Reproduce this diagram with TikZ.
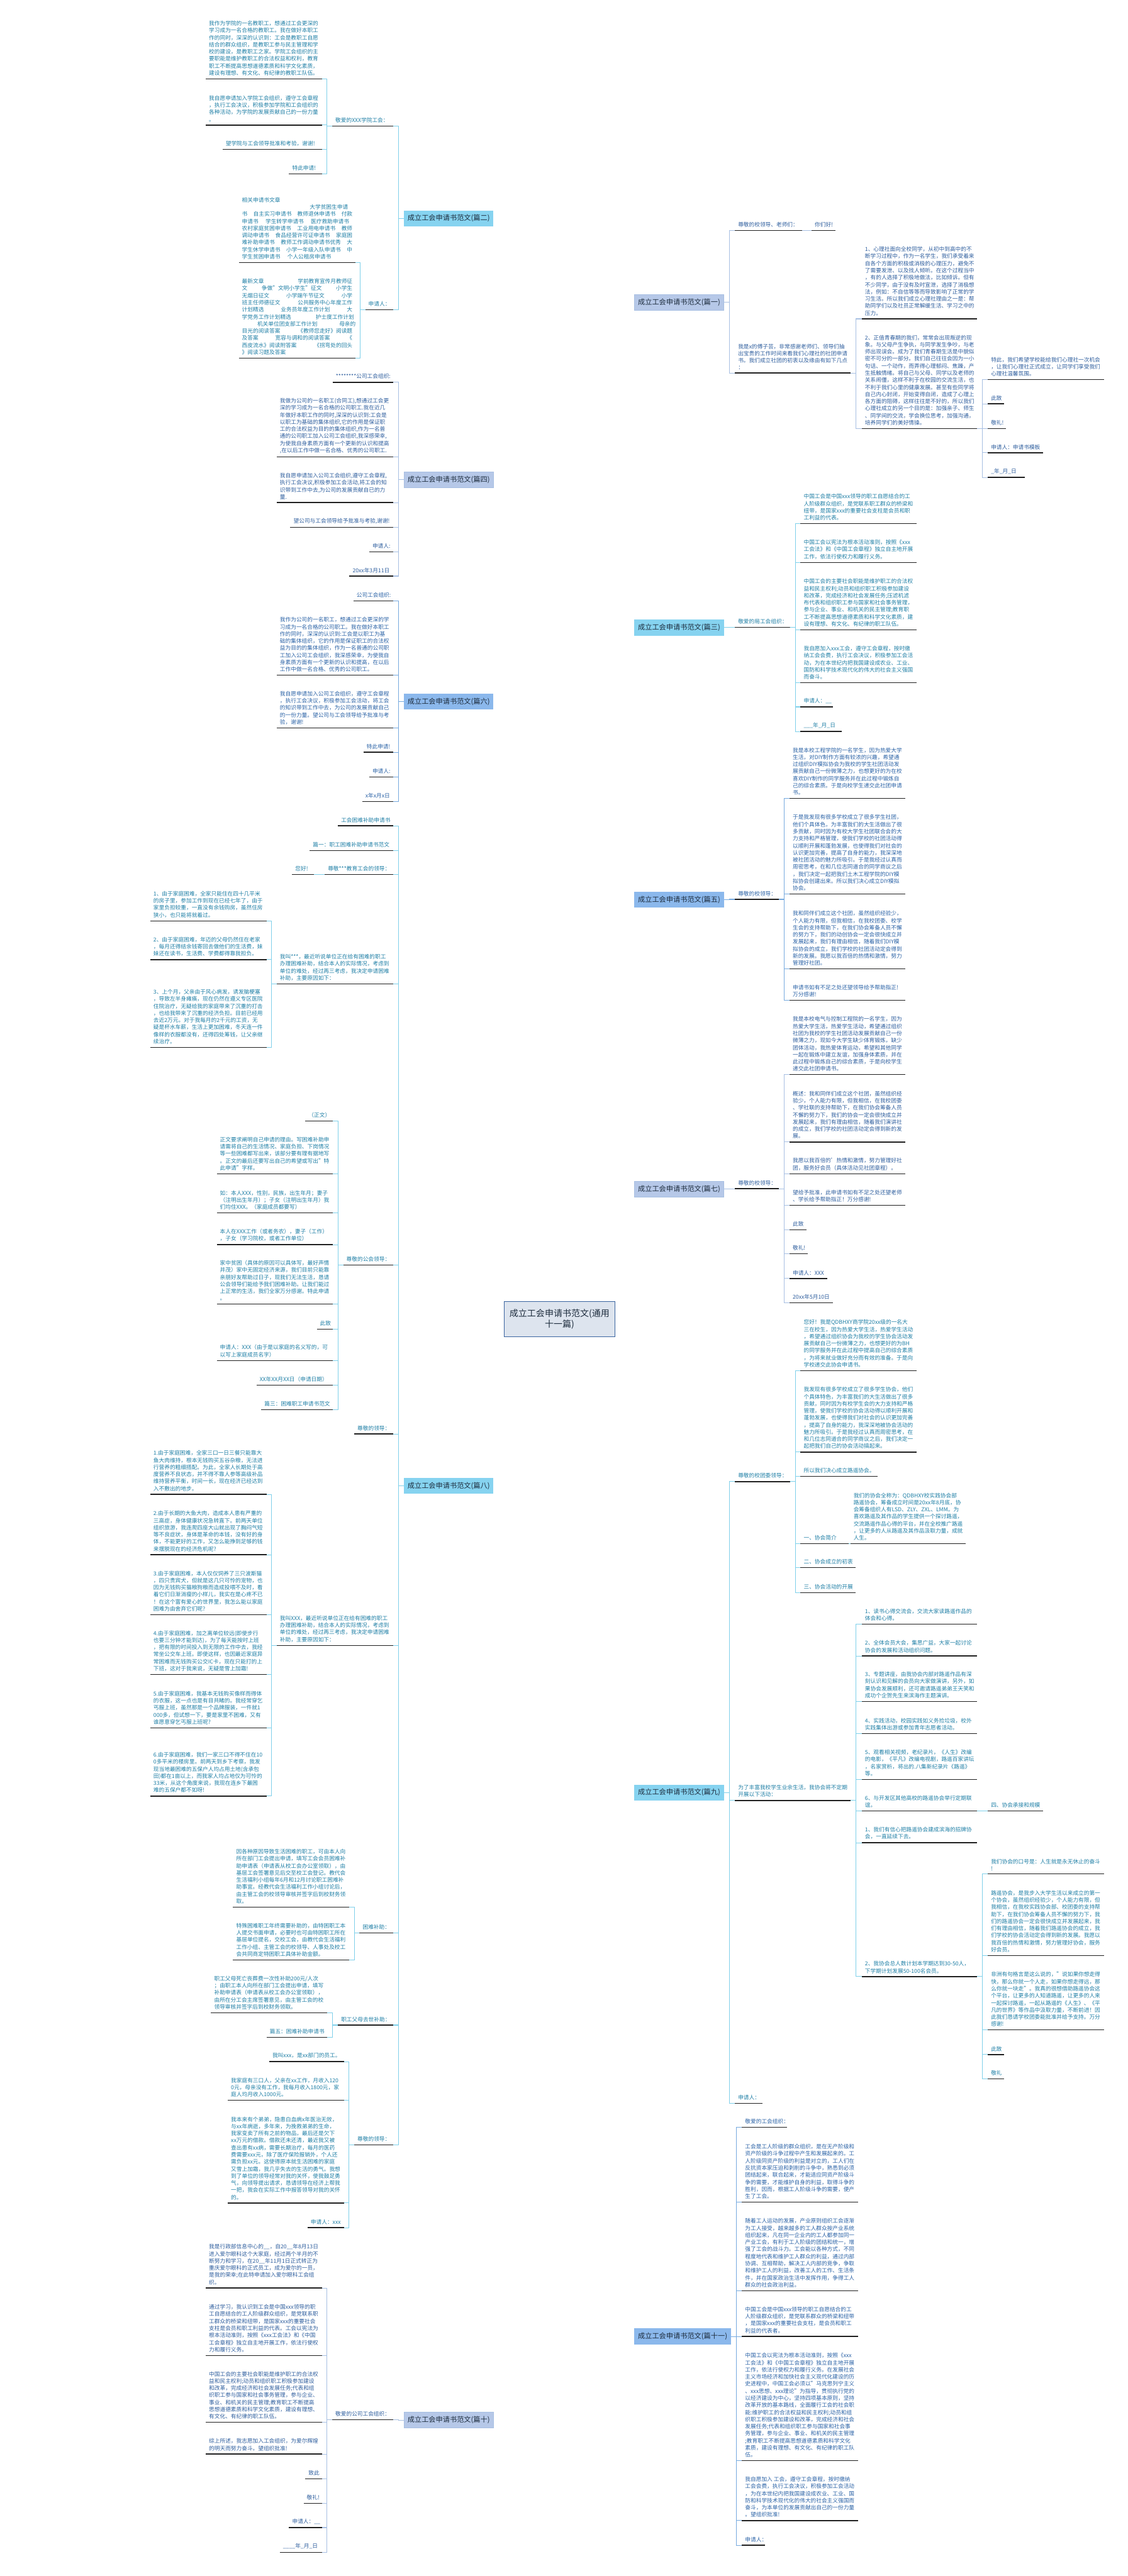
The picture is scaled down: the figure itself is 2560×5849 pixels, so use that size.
\documentclass[tikz,border=0pt]{standalone}
\usepackage{fontspec}
\setmainfont{Noto Sans CJK SC}
\usetikzlibrary{calc}
\pgfdeclarelayer{bg}
\pgfsetlayers{bg,main}
\definecolor{cC}{HTML}{7FD0EA}
\definecolor{cS}{HTML}{A7BFE2}
\definecolor{cB}{HTML}{76A9DE}
\definecolor{fC}{HTML}{86D3F0}
\definecolor{fS}{HTML}{B6C8E8}
\definecolor{fB}{HTML}{8BB8EC}
\definecolor{tC}{HTML}{1F7FA6}
\definecolor{tS}{HTML}{2E5E9E}
\definecolor{tB}{HTML}{2A62A6}
\definecolor{boxtxt}{HTML}{1C2B3C}
\definecolor{rootfill}{HTML}{DDE4EE}
\definecolor{rootdraw}{HTML}{3A64A0}
\newcommand{\leaffont}{\fontsize{6.2pt}{8.05pt}\selectfont}
\newcommand{\jl}[1]{\hbox to 20.2em{#1}}
\newcommand{\leafnode}[5]{%
  \coordinate (#1-l) at (#2,#4);%
  \coordinate (#1-r) at (#3,#4);%
  \draw[uline] (#1-l) -- (#1-r);%
  \node[leaft] (#1) at ($(#1-l)+(7,-7)$) {#5};}
\newcommand{\lgrp}[5]{\coordinate (#3) at (#4,0);%
  \foreach \c in {#5}{\draw[conn,#1] (#2) -- (#2 -| #3) -- (\c-r -| #3) -- (\c-r);}}
\newcommand{\rgrp}[5]{\coordinate (#3) at (#4,0);%
  \foreach \c in {#5}{\draw[conn,#1] (#2) -- (#2 -| #3) -- (\c-l -| #3) -- (\c-l);}}
\newcommand{\lcurve}[3]{\draw[curve,#1] (rootL) .. controls (1205,{2995+0.72*(#3-2995)}) and (1205,#3) .. (#2.east);}
\newcommand{\rcurve}[3]{\draw[curve,#1] (rootR) .. controls (1335,{2995+0.72*(#3-2995)}) and (1335,#3) .. (#2.west);}
\begin{document}
\begin{tikzpicture}[x=0.5pt,y=-0.5pt,
  uline/.style={draw=black!88,line width=1pt},
  conn/.style={line width=0.75pt},
  curve/.style={line width=1.3pt},
  lt/.style={text=tC},
  leaft/.style={inner sep=0pt,align=left,font=\leaffont,anchor=south west,lt},
  box/.style={minimum width=101.5pt,minimum height=18pt,inner sep=0pt,font=\fontsize{8pt}{10pt}\selectfont,text=boxtxt},
  root/.style={minimum width=126pt,minimum height=40pt,inner sep=0pt,align=center,font=\fontsize{10pt}{12.5pt}\selectfont,fill=rootfill,draw=rootdraw,line width=0.8pt,text=boxtxt}]
\fill[white] (0,0) rectangle (2560,5849);
\useasboundingbox (0,0) rectangle (2560,5849);

\node[root] (root) at (1270,2995) {成立工会申请书范文(通用\\十一篇)};
\coordinate (rootL) at (1212,2995);
\coordinate (rootR) at (1328,2995);

% ================= LEFT: 篇二 =================
\node[box,fill=fC] (b2) at (1018.5,496) {成立工会申请书范文(篇二)};
\tikzset{lt/.style={text=tC}}
\leafnode{p2a}{754}{892}{286}{敬爱的XXX学院工会：}
\leafnode{p2b}{829}{892}{703}{申请人：}
\leafnode{p2a1}{467}{731}{179}{我作为学院的一名教职工，想通过工会更深的\\学习成为一名合格的教职工。我在做好本职工\\作的同时，深深的认识到：工会是教职工自愿\\结合的群众组织，是教职工参与民主管理和学\\校的建设，是教职工之家。学院工会组织的主\\要职能是维护教职工的合法权益和权利，教育\\职工不断提高思想道德素质和科学文化素质，\\建设有理想、有文化、有纪律的教职工队伍。}
\leafnode{p2a2}{467}{731}{284}{我自愿申请加入学院工会组织，遵守工会章程\\，执行工会决议，积极参加学院和工会组织的\\各种活动，为学院的发展贡献自己的一份力量\\。}
\leafnode{p2a3}{505}{731}{339}{望学院与工会领导批准和考验，谢谢!}
\leafnode{p2a4}{656}{731}{395}{特此申请!}
\leafnode{p2b1}{542}{807}{596}{相关申请书文章\\\hspace*{12.4em}大学贫困生申请\\\jl{书\hfill 自主实习申请书\hfill 教师退休申请书\hfill 付款}\\申请书\hspace{1.3em}学生转学申请书\hspace{1.3em}医疗救助申请书\\\jl{农村家庭贫困申请书\hfill 工业用电申请书\hfill 教师}\\\jl{调动申请书\hfill 食品经营许可证申请书\hfill 家庭困}\\\jl{难补助申请书\hfill 教师工作调动申请书优秀\hfill 大}\\\jl{学生休学申请书\hfill 小学一年级入队申请书\hfill 中}\\学生贫困申请书\hspace{1.3em}个人公租房申请书}
\leafnode{p2b2}{542}{807}{813}{\jl{最新文章\hfill 学前教育宣传月教师征}\\\jl{文\hfill 争做"文明小学生"征文\hfill 小学生}\\\jl{无烟日征文\hfill 小学端午节征文\hfill 小学}\\\jl{班主任师德征文\hfill 公共服务中心年度工作}\\\jl{计划精选\hfill 业务员年度工作计划\hfill 大}\\学党务工作计划精选\hspace{4.5em}护士度工作计划\\\hspace*{2.8em}机关单位团支部工作计划\hspace{4em}母亲的\\\jl{目光的阅读答案\hfill 《教师您走好》阅读题}\\\jl{及答案\hfill 宽容与调和的阅读答案\hfill 《}\\\jl{西皮流水》阅读附答案\hfill 《拐弯处的回头}\\》阅读习题及答案}
\lgrp{cC}{b2.west}{v2}{904}{p2a,p2b}
\lgrp{cC}{p2a-l}{v2a}{742}{p2a1,p2a2,p2a3,p2a4}
\lgrp{cC}{p2b-l}{v2b}{817}{p2b1,p2b2}

% ================= LEFT: 篇四 =================
\node[box,fill=fS,draw=cS] (b4) at (1018.5,1089) {成立工会申请书范文(篇四)};
\tikzset{lt/.style={text=tS}}
\leafnode{q1}{755}{892}{868}{********公司工会组织:}
\leafnode{q2}{628}{892}{1037}{我做为公司的一名职工(合同工),想通过工会更\\深的学习成为一名合格的公司职工.我在近几\\年做好本职工作的同时,深深的认识到:工会是\\以职工为基础的集体组织,它的作用是保证职\\工的合法权益为目的的集体组织,作为一名普\\通的公司职工加入公司工会组织,我深感荣幸,\\为使我自身素质方面有一个更新的认识和提高\\,在以后工作中做一名合格、优秀的公司职工.}
\leafnode{q3}{628}{892}{1141}{我自愿申请加入公司工会组织,遵守工会章程,\\执行工会决议,积极参加工会活动,将工会的知\\识带到工作中去,为公司的发展贡献自已的力\\量.}
\leafnode{q4}{659}{892}{1197}{望公司与工会领导给予批准与考验,谢谢!}
\leafnode{q5}{838}{892}{1253}{申请人:}
\leafnode{q6}{793}{892}{1308}{20xx年3月11日}
\lgrp{cS}{b4.west}{v4}{904}{q1,q2,q3,q4,q5,q6}

% ================= LEFT: 篇六 =================
\node[box,fill=fB] (b6) at (1018.5,1593) {成立工会申请书范文(篇六)};
\tikzset{lt/.style={text=tB}}
\leafnode{s1}{802}{892}{1364}{公司工会组织:}
\leafnode{s2}{628}{892}{1533}{我作为公司的一名职工，想通过工会更深的学\\习成为一名合格的公司职工。我在做好本职工\\作的同时，深深的认识到:工会是以职工为基\\础的集体组织，它的作用是保证职工的合法权\\益为目的的集体组织，作为一名普通的公司职\\工加入公司工会组织，我深感荣幸，为使我自\\身素质方面有一个更新的认识和提高，在以后\\工作中做一名合格、优秀的公司职工。}
\leafnode{s3}{628}{892}{1653}{我自愿申请加入公司工会组织，遵守工会章程\\，执行工会决议，积极参加工会活动，将工会\\的知识带到工作中去，为公司的发展贡献自己\\的一份力量。望公司与工会领导给予批准与考\\验，谢谢!}
\leafnode{s4}{825}{892}{1708}{特此申请!}
\leafnode{s5}{838}{892}{1764}{申请人:}
\leafnode{s6}{822}{892}{1820}{x年x月x日}
\lgrp{cB}{b6.west}{v6}{904}{s1,s2,s3,s4,s5,s6}

% ================= LEFT: 篇八 =================
\node[box,fill=fC] (b8) at (1018.5,3374) {成立工会申请书范文(篇八)};
\tikzset{lt/.style={text=tC}}
\leafnode{t1}{767}{892}{1875}{工会困难补助申请书}
\leafnode{t2}{703}{892}{1931}{篇一：职工困难补助申请书范文}
\leafnode{t3}{737}{892}{1986}{尊敬***教育工会的领导：}
\leafnode{t3a}{663}{713}{1986}{您好!}
\leafnode{t4}{628}{892}{2234}{我叫***，最近听说单位正在给有困难的职工\\办理困难补助，结合本人的实际情况，考虑到\\单位的难处，经过再三考虑，我决定申请困难\\补助，主要原因如下：}
\leafnode{t4a}{341}{605}{2091}{1、由于家庭困难，全家只能住在四十几平米\\的房子里，参加工作到现在已经七年了，由于\\家里负担较重，一直没有余钱购房，虽然住房\\狭小，也只能将就着过。}
\leafnode{t4b}{341}{605}{2179}{2、由于家庭困难，年迈的父母仍然住在老家\\，每月还得结余钱寄回去做他们的生活费，妹\\妹还在读书，生活费、学费都得靠我担负。}
\leafnode{t4c}{341}{605}{2378}{3、上个月，父亲由于风心病发，诱发脑梗塞\\，导致左半身瘫痪，现在仍然在遵义专区医院\\住院治疗，无疑给我的家庭带来了沉重的打击\\，也给我带来了沉重的经济负担。目前已经用\\去近2万元。对于我每月的2千元的工资，无\\疑是杯水车薪，生活上更加困难，冬天连一件\\像样的衣服都没有，还得四处筹钱，让父亲继\\续治疗。}
\leafnode{t5}{779}{892}{2872}{尊敬的公会领导：}
\leafnode{t5a}{693}{756}{2545}{（正文）}
\leafnode{t5b}{492}{756}{2665}{正文要求阐明自己申请的理由。写困难补助申\\请需将自己的生活情况、家庭负担、下岗情况\\等一些困难都写出来，该部分要有理有据地写\\。正文的最后还要写出自己的希望或写出"特\\此申请"字样。}
\leafnode{t5c}{492}{756}{2754}{如：本人XXX，性别，民族，出生年月；妻子\\（注明出生年月）；子女（注明出生年月）我\\们均住XXX。（家庭成员都要写）}
\leafnode{t5d}{492}{756}{2826}{本人在XXX工作（或者务农），妻子（工作）\\，子女（学习院校，或者工作单位）}
\leafnode{t5e}{492}{756}{2961}{家中贫困（具体的原因可以具体写，最好声情\\并茂）家中无固定经济来源，我们目前只能靠\\亲朋好友帮助过日子，现我们无法生活，恳请\\公会领导们能给予我们困难补助。让我们能过\\上正常的生活，我们全家万分感谢。特此申请\\。}
\leafnode{t5f}{719}{756}{3018}{此致}
\leafnode{t5g}{492}{756}{3089}{申请人：XXX（由于是以家庭的名义写的，可\\以写上家庭成员名字）}
\leafnode{t5h}{582}{756}{3145}{XX年XX月XX日（申请日期）}
\leafnode{t5i}{593}{756}{3201}{篇三：困难职工申请书范文}
\leafnode{t6}{804}{892}{3256}{尊敬的领导：}
\leafnode{t7}{628}{892}{3736}{我叫XXX，最近听说单位正在给有困难的职工\\办理困难补助，结合本人的实际情况，考虑到\\单位的难处，经过再三考虑，我决定申请困难\\补助，主要原因如下：}
\leafnode{t7a}{341}{605}{3393}{1.由于家庭困难，全家三口一日三餐只能靠大\\鱼大肉维持，根本无钱购买五谷杂粮，无法进\\行营养的粗细搭配。为此，全家人长期处于高\\度营养不良状态，并不得不靠人参等高级补品\\维持营养平衡，时间一长，现在经济已经达到\\入不敷出的地步。}
\leafnode{t7b}{341}{605}{3530}{2.由于长期的大鱼大肉，造成本人患有严重的\\三高症，身体健康状况急转直下。前两天单位\\组织旅游，我连爬四座大山就出现了胸闷气短\\等不良症状，身体是革命的本钱，没有好的身\\体，不能更好的工作，又怎么能挣到足够的钱\\来摆脱现在的经济危机呢?}
\leafnode{t7c}{341}{605}{3666}{3.由于家庭困难，本人仅仅饲养了三只波斯猫\\，四只贵宾犬，但就是这几只可怜的宠物，也\\因为无钱购买猫粮狗粮而造成投喂不及时，看\\着它们日渐消瘦的小样儿，我实在是心疼不已\\！在这个富有爱心的世界里，我怎么能以家庭\\困难为由舍弃它们呢?}
\leafnode{t7d}{341}{605}{3802}{4.由于家庭困难，加之离单位较远(即使步行\\也要三分钟才能到达)，为了每天能按时上班\\，把有限的时间投入到无限的工作中去，我经\\常坐公交车上班。即使这样，也因最近家庭异\\常困难而无钱购买公交IC卡，现在只能打的上\\下班，这对于我来说，无疑是雪上加霜!}
\leafnode{t7e}{341}{605}{3923}{5.由于家庭困难，我基本无钱购买像样而得体\\的衣服，这一点也是有目共睹的。我经常穿乞\\丐服上班，虽然那是一个品牌服装，一件就1\\000多，但试想一下，要是家里不困难，又有\\谁愿意穿乞丐服上班呢?}
\leafnode{t7f}{341}{605}{4078}{6.由于家庭困难，我们一家三口不得不住在10\\0多平米的楼房里。前两天到乡下考察，我发\\现当地最困难的五保户人均占用土地(含承包\\田)都在1亩以上，而我家人均占地仅为可怜的\\33米，从这个角度来说，我现在连乡下最困\\难的五保户都不如呀!}
\leafnode{t8}{816}{892}{4389}{困难补助：}
\leafnode{t8a}{529}{793}{4330}{因各种原因导致生活困难的职工，可由本人向\\所在部门工会提出申请，填写工会会员困难补\\助申请表（申请表从校工会办公室领取），由\\基层工会签署意见后交至校工会登记。教代会\\生活福利小组每年6月和12月讨论职工困难补\\助事宜。经教代会生活福利工作小组讨论后，\\由主管工会的校领导审核并签字后到校财务领\\取。}
\leafnode{t8b}{529}{793}{4450}{特殊困难职工年终需要补助的，由特困职工本\\人提交书面申请，必要时也可由特困职工所在\\基层单位提名，交校工会，由教代会生活福利\\工作小组、主管工会的校领导、人事处及校工\\会共同商定特困职工具体补助金额。}
\leafnode{t9}{767}{892}{4598}{职工父母去世补助：}
\leafnode{t9a}{479}{743}{4570}{职工父母死亡丧葬费一次性补助200元/人次\\；由职工本人向所在部门工会提出申请，填写\\补助申请表（申请表从校工会办公室领取），\\由所在分工会主席签署意见，由主管工会的校\\领导审核并签字后到校财务领取。}
\leafnode{t9b}{605}{743}{4626}{篇五：困难补助申请书}
\leafnode{t10}{804}{892}{4870}{尊敬的领导：}
\leafnode{t10a}{611}{781}{4681}{我叫xxx，是xx部门的员工。}
\leafnode{t10b}{517}{781}{4769}{我家庭有三口人，父亲在xx工作，月收入120\\0元，母亲没有工作，我每月收入1800元，家\\庭人均月收入1000元。}
\leafnode{t10c}{517}{781}{5002}{我本来有个弟弟，隐患白血病x年医治无效，\\与xx年病逝，多年来，为挽救弟弟的生命，\\我家变卖了所有之前的物品，最后还是欠下\\xx万元的借款。借款还未还清，最近我又被\\查出患有xx病，需要长期治疗，每月的医药\\费需要xxx元，除了医疗保险报销外，个人还\\需负担xx元。这使得原本就生活困难的家庭\\又雪上加霜，我几乎失去的生活的勇气。我想\\到了单位的领导经常对我的关怀，使我鼓足勇\\气，向领导提出请求，恳请领导在经济上帮我\\一把，我会在实际工作中报答领导对我的关怀\\的。}
\leafnode{t10d}{698}{781}{5058}{申请人：xxx}
\lgrp{cC}{b8.west}{v8}{904}{t1,t2,t3,t4,t5,t6,t7,t8,t9,t10}
\lgrp{cC}{t3-l}{v8a}{725}{t3a}
\lgrp{cC}{t4-l}{v8b}{616}{t4a,t4b,t4c}
\lgrp{cC}{t5-l}{v8c}{767}{t5a,t5b,t5c,t5d,t5e,t5f,t5g,t5h,t5i}
\lgrp{cC}{t7-l}{v8d}{616}{t7a,t7b,t7c,t7d,t7e,t7f}
\lgrp{cC}{t8-l}{v8e}{804}{t8a,t8b}
\lgrp{cC}{t9-l}{v8f}{754}{t9a,t9b}
\lgrp{cC}{t10-l}{v8g}{792}{t10a,t10b,t10c,t10d}

% ================= LEFT: 篇十 =================
\node[box,fill=fS,draw=cS] (b10) at (1018.5,5495) {成立工会申请书范文(篇十)};
\tikzset{lt/.style={text=tS}}
\leafnode{u0}{754}{892}{5494}{敬爱的公司工会组织：}
\leafnode{u1}{467}{731}{5195}{我是行政部信息中心的\_\_，自20\_\_年8月13日\\进入爱尔眼科这个大家庭，经过两个半月的不\\断努力和学习，在20\_\_年11月1日正式转正为\\重庆爱尔眼科的正式员工，成为爱尔的一员，\\是我的荣幸;在此特申请加入爱尔眼科工会组\\织。}
\leafnode{u2}{467}{731}{5348}{通过学习，我认识到工会是中国xxx领导的职\\工自愿结合的工人阶级群众组织，是党联系职\\工群众的桥梁和纽带，是国家xxx的重要社会\\支柱是会员和职工利益的代表。工会以宪法为\\根本活动准则，按照《xxx工会法》和《中国\\工会章程》独立自主地开展工作，依法行使权\\力和履行义务。}
\leafnode{u3}{467}{731}{5500}{中国工会的主要社会职能是维护职工的合法权\\益和民主权利;动员和组织职工积极参加建设\\和改革，完成经济和社会发展任务;代表和组\\织职工参与国家和社会事务管理，参与企业、\\事业、和机关的民主管理;教育职工不断提高\\思想道德素质和科学文化素质，建设有理想、\\有文化、有纪律的职工队伍。}
\leafnode{u4}{467}{731}{5572}{综上所述，我志愿加入工会组织，为爱尔辉煌\\的明天而努力奋斗。望组织批准!}
\leafnode{u5}{693}{731}{5628}{致此}
\leafnode{u6}{689}{731}{5684}{敬礼!}
\leafnode{u7}{656}{731}{5739}{申请人：\_\_}
\leafnode{u8}{635}{731}{5795}{\_\_\_\_年\_月\_日}
\lgrp{cS}{b10.west}{v10}{904}{u0}
\lgrp{cS}{u0-l}{v10a}{742}{u1,u2,u3,u4,u5,u6,u7,u8}

% ================= RIGHT: 篇一 =================
\node[box,fill=fS,draw=cS] (r1) at (1541.5,686) {成立工会申请书范文(篇一)};
\tikzset{lt/.style={text=tS}}
\leafnode{v1}{1668}{1820}{523}{尊敬的校领导、老师们：}
\leafnode{v1a}{1842}{1896}{523}{你们好!}
\leafnode{v2}{1668}{1931}{847}{我是x的傅子芸，非常感谢老师们、领导们抽\\出宝贵的工作时间来看我们心理社的社团申请\\书。我们成立社团的初衷以及缘由有如下几点\\：}
\leafnode{v2a}{1956}{2218}{724}{1、心理社面向全校同学，从初中到高中的不\\断学习过程中，作为一名学生，我们承受着来\\自各个方面的积极或消极的心理压力，避免不\\了需要发泄、以及找人倾听。在这个过程当中\\，有的人选择了积极地做法，比如倾诉。但有\\不少同学，由于没有及时宣泄，选择了消极想\\法，例如：不自信等等而导致影响了正常的学\\习生活。所以我们成立心理社理由之一是：帮\\助同学们以及社员正常解缓生活、学习之中的\\压力。}
\leafnode{v2b}{1956}{2218}{973}{2、正值青春期的我们，常常会出现叛逆的现\\象。与父母产生争执，与同学发生争吵，与老\\师出现误会。成为了我们青春期生活是中貌似\\密不可分的一部分。我们自己往往会因为一小\\句话、一个动作，而弄得心理郁闷、焦躁，产\\生抵触情绪。将自己与父母、同学以及老师的\\关系闹僵，这样不利于在校园的交流生活，也\\不利于我们心里的健康发展。甚至有些同学将\\自己内心封闭，开始变得自闭，造成了心理上\\各方面的阻碍，这样往往是不好的，所以我们\\心理社成立的另一个目的是：加强亲子、师生\\、同学间的交流，学会换位思考，加强沟通，\\培养同学们的美好情操。}
\leafnode{v2b1}{2242}{2506}{862}{特此，我们希望学校能给我们心理社一次机会\\，让我们心理社正式成立，让同学们享受我们\\心理社温馨氛围。}
\leafnode{v2b2}{2242}{2279}{917}{此致}
\leafnode{v2b3}{2242}{2284}{973}{敬礼!}
\leafnode{v2b4}{2242}{2368}{1028}{申请人：申请书模板}
\leafnode{v2b5}{2242}{2326}{1084}{\_年\_月\_日}
\rgrp{cS}{r1.east}{w1v}{1656}{v1,v2}
\rgrp{cS}{v1-r}{w1va}{1831}{v1a}
\rgrp{cS}{v2-r}{w1vb}{1943}{v2a,v2b}
\rgrp{cS}{v2b-r}{w1vc}{2230}{v2b1,v2b2,v2b3,v2b4,v2b5}

% ================= RIGHT: 篇三 =================
\node[box,fill=fC] (r3) at (1541.5,1425) {成立工会申请书范文(篇三)};
\tikzset{lt/.style={text=tC}}
\leafnode{w0}{1668}{1793}{1424}{敬爱的局工会组织：}
\leafnode{w1}{1817}{2080}{1189}{中国工会是中国xxx领导的职工自愿结合的工\\人阶级群众组织，是党联系职工群众的桥梁和\\纽带，是国家xxx的重要社会支柱是会员和职\\工利益的代表。}
\leafnode{w2}{1817}{2080}{1277}{中国工会以宪法为根本活动准则，按照《xxx\\工会法》和《中国工会章程》独立自主地开展\\工作，依法行使权力和履行义务。}
\leafnode{w3}{1817}{2080}{1430}{中国工会的主要社会职能是维护职工的合法权\\益和民主权利;动员和组织职工积极参加建设\\和改革，完成经济和社会发展任务;压滤机滤\\布代表和组织职工参与国家和社会事务管理，\\参与企业、事业、和机关的民主管理;教育职\\工不断提高思想道德素质和科学文化素质，建\\设有理想、有文化、有纪律的职工队伍。}
\leafnode{w4}{1817}{2080}{1550}{我自愿加入xxx工会，遵守工会章程，按时缴\\纳工会会费，执行工会决议，积极参加工会活\\动，为在本世纪内把我国建设成农业、工业、\\国防和科学技术现代化的伟大的社会主义强国\\而奋斗。}
\leafnode{w5}{1817}{1891}{1605}{申请人：\_\_}
\leafnode{w6}{1817}{1911}{1661}{\_\_\_年\_月\_日}
\rgrp{cC}{r3.east}{w3v}{1656}{w0}
\rgrp{cC}{w0-r}{w3va}{1805}{w1,w2,w3,w4,w5,w6}

% ================= RIGHT: 篇五 =================
\node[box,fill=fB] (r5) at (1541.5,2043) {成立工会申请书范文(篇五)};
\tikzset{lt/.style={text=tB}}
\leafnode{x0}{1668}{1768}{2042}{尊敬的校领导：}
\leafnode{x1}{1792}{2055}{1813}{我是本校工程学院的一名学生，因为热爱大学\\生活，对DIY制作方面有较浓的兴趣，希望通\\过组织DIY模拟协会为我校的学生社团活动发\\展贡献自己一份微薄之力，也想更好的为在校\\喜欢DIY制作的同学服务并在此过程中锻炼自\\己的综合素质。于是向校学生递交此社团申请\\书。}
\leafnode{x2}{1792}{2055}{2030}{于是我发现有很多学校成立了很多学生社团，\\他们个具体色，为丰富我们的大生活做出了很\\多贡献，同时因为有校大学生社团联合会的大\\力支持和严格管理，使我们学校的社团活动得\\以顺利开展和蓬勃发展，也使得我们对社会的\\认识更加完善，提高了自身的能力，我深深地\\被社团活动的魅力所吸引。于是我经过认真而\\周密思考，在和几位志同道合的同学商议之后\\，我们决定一起把我们土木工程学院的DIY模\\拟协会创建出来。所以我们决心成立DIY模拟\\协会。}
\leafnode{x3}{1792}{2055}{2200}{我和同伴们成立这个社团，虽然组织经验少，\\个人能力有限，但我相信，在我校团委、校学\\生会的支持帮助下，在我们协会筹备人员不懈\\的努力下，我们的动创协会一定会很快成立并\\发展起来，我们有理由相信，随着我们DIY模\\拟协会的成立，我们学校的社团活动定会得到\\新的发展。我愿以我百倍的热情和激情，努力\\管理好社团。}
\leafnode{x4}{1792}{2055}{2271}{申请书如有不足之处还望领导给予帮助指正!\\万分感谢!}
\rgrp{cB}{r5.east}{w5v}{1656}{x0}
\rgrp{cB}{x0-r}{w5va}{1780}{x1,x2,x3,x4}

% ================= RIGHT: 篇七 =================
\node[box,fill=fS,draw=cS] (r7) at (1541.5,2700) {成立工会申请书范文(篇七)};
\tikzset{lt/.style={text=tS}}
\leafnode{y0}{1668}{1768}{2699}{尊敬的校领导：}
\leafnode{y1}{1792}{2055}{2440}{我是本校电气与控制工程院的一名学生，因为\\热爱大学生活，热爱学生活动，希望通过组织\\社团为我校的学生社团活动发展贡献自己一份\\微薄之力，现如今大学生缺少体育锻炼，缺少\\团体活动，我热爱体育运动，希望和其他同学\\一起在锻炼中建立友谊，加强身体素质，并在\\此过程中锻炼自己的综合素质，于是向校学生\\递交此社团申请书。}
\leafnode{y2}{1792}{2055}{2593}{概述：我和同伴们成立这个社团，虽然组织经\\验少，个人能力有限，但我相信，在我校团委\\、学社联的支持帮助下，在我们协会筹备人员\\不懈的努力下，我们的协会一定会很快成立并\\发展起来，我们有理由相信，随着我们演讲社\\的成立，我们学校的社团活动定会得到新的发\\展。}
\leafnode{y3}{1792}{2055}{2665}{我愿以我百倍的'热情和激情，努力管理好社\\团，服务好会员（具体活动见社团章程）。}
\leafnode{y4}{1792}{2055}{2737}{望给予批准，此申请书如有不足之处还望老师\\、学长给予帮助指正！万分感谢!}
\leafnode{y5}{1792}{1830}{2792}{此致}
\leafnode{y6}{1792}{1833}{2847}{敬礼!}
\leafnode{y7}{1792}{1878}{2903}{申请人：XXX}
\leafnode{y8}{1792}{1891}{2958}{20xx年5月10日}
\rgrp{cS}{r7.east}{w7v}{1656}{y0}
\rgrp{cS}{y0-r}{w7va}{1780}{y1,y2,y3,y4,y5,y6,y7,y8}

% ================= RIGHT: 篇九 =================
\node[box,fill=fC] (r9) at (1541.5,4070) {成立工会申请书范文(篇九)};
\tikzset{lt/.style={text=tC}}
\leafnode{z0}{1668}{1793}{3364}{尊敬的校团委领导：}
\leafnode{z0a}{1817}{2080}{3112}{您好！我是QDBHXY商学院20xx级的一名大\\三在校生，因为热爱大学生活，热爱学生活动\\，希望通过组织协会为我校的学生协会活动发\\展贡献自己一份微薄之力，也想更好的为BH\\的同学服务并在此过程中提高自己的综合素质\\，为将来就业做好充分而有效的准备。于是向\\学校递交此协会申请书。}
\leafnode{z0b}{1817}{2080}{3297}{我发现有很多学校成立了很多学生协会，他们\\个具体特色，为丰富我们的大生活做出了很多\\贡献，同时因为有校学生会的大力支持和严格\\管理，使我们学校的协会活动得以顺利开展和\\蓬勃发展，也使得我们对社会的认识更加完善\\，提高了自身的能力，我深深地被协会活动的\\魅力所吸引。于是我经过认真而周密思考，在\\和几位志同道合的同学商议之后，我们决定一\\起把我们自己的协会活动搞起来。}
\leafnode{z0c}{1817}{1992}{3352}{所以我们决心成立路遥协会。}
\leafnode{z0d}{1817}{1926}{3505}{一、协会简介}
\leafnode{z0d1}{1930}{2192}{3505}{我们的协会全称为：QDBHXY校实践协会部\\路遥协会，筹备成立时间是20xx年8月底，协\\会筹备组织人有LSD、ZLY、ZXL、LMM。为\\喜欢路遥及其作品的学生提供一个探讨路遥，\\交流路遥作品心得的平台，并在全校推广路遥\\，让更多的人从路遥及其作品汲取力量，成就\\人生。}
\leafnode{z0e}{1817}{1942}{3559}{二、协会成立的初衷}
\leafnode{z0f}{1817}{1942}{3616}{三、协会活动的开展}
\leafnode{z1}{1668}{1931}{4088}{为了丰富我校学生业余生活，我协会将不定期\\开展以下活动：}
\leafnode{z1a}{1956}{2218}{3688}{1、读书心得交流会，交流大家读路遥作品的\\体会和心得。}
\leafnode{z1b}{1956}{2218}{3760}{2、全体会员大会，集思广益，大家一起讨论\\协会的发展和活动组织问题。}
\leafnode{z1c}{1956}{2218}{3863}{3、专题讲座，由我协会内部对路遥作品有深\\刻认识和见解的会员向大家做演讲，另外，如\\果协会发展顺利，还可邀请路遥弟弟王天笑和\\成功个企贺先生来滨海作主题演讲。}
\leafnode{z1d}{1956}{2218}{3936}{4、实践活动，校园实践如义务捡垃圾，校外\\实践集体出游或参加青年志愿者活动。}
\leafnode{z1e}{1956}{2218}{4040}{5、观看相关视频，老纪录片，《人生》改编\\的电影，《平凡》改编电视剧，路遥百家讲坛\\，名家赏析，将出的.八集新纪录片《路遥》\\等。}
\leafnode{z1f}{1956}{2218}{4112}{6、与开发区其他高校的路遥协会举行定期联\\谊。}
\leafnode{z1f1}{2242}{2368}{4112}{四、协会承接和规模}
\leafnode{z1g}{1956}{2218}{4184}{1、我们有信心把路遥协会建成滨海的招牌协\\会，一直延续下去。}
\leafnode{z1h}{1956}{2218}{4488}{2、我协会总人数计划本学期达到30-50人，\\下学期计划发展50-100名会员。}
\leafnode{z1h1}{2242}{2506}{4255}{我们协会的口号是：人生就是永无休止的奋斗\\!}
\leafnode{z1h2}{2242}{2506}{4440}{路遥协会，是我步入大学生活以来成立的第一\\个协会，虽然组织经验少，个人能力有限，但\\我相信，在我校实践协会部、校团委的支持帮\\助下，在我们协会筹备人员不懈的努力下，我\\们的路遥协会一定会很快成立并发展起来，我\\们有理由相信，随着我们路遥协会的成立，我\\们学校的协会活动定会得到新的发展。我愿以\\我百倍的热情和激情，努力管理好协会，服务\\好会员。}
\leafnode{z1h3}{2242}{2506}{4609}{非洲有句格言是这么说的，"说如果你想走得\\快，那么你就一个人走，如果你想走得远，那\\么你就一块走"。我真的很想借助路遥协会这\\个平台，让更多的人知道路遥，让更多的人来\\一起探讨路遥，一起从路遥的《人生》、《平\\凡的世界》等作品中汲取力量，不断前进！因\\此我们恳请学校团委能批准并给予支持。万分\\感谢!}
\leafnode{z1h4}{2242}{2279}{4665}{此致}
\leafnode{z1h5}{2242}{2279}{4720}{敬礼}
\leafnode{z2}{1668}{1730}{4776}{申请人：}
\rgrp{cC}{r9.east}{w9v}{1656}{z0,z1,z2}
\rgrp{cC}{z0-r}{w9va}{1805}{z0a,z0b,z0c,z0d,z0e,z0f}
\rgrp{cC}{z0d-r}{w9vb}{1928}{z0d1}
\rgrp{cC}{z1-r}{w9vc}{1943}{z1a,z1b,z1c,z1d,z1e,z1f,z1g,z1h}
\rgrp{cC}{z1f-r}{w9vd}{2230}{z1f1}
\rgrp{cC}{z1h-r}{w9ve}{2230}{z1h1,z1h2,z1h3,z1h4,z1h5}

% ================= RIGHT: 篇十一 =================
\node[box,fill=fB,minimum width=109.5pt] (r11) at (1549.5,5305) {成立工会申请书范文(篇十一)};
\tikzset{lt/.style={text=tB}}
\leafnode{k1}{1684}{1787}{4830}{敬爱的工会组织：}
\leafnode{k2}{1684}{1948}{5000}{工会是工人阶级的群众组织，是在无产阶级和\\资产阶级的斗争过程中产生和发展起来的。工\\人阶级同资产阶级的利益是对立的，工人们在\\反抗资本家压迫和剥削的斗争中，熟悉到必须\\团结起来，联合起来，才能适应同资产阶级斗\\争的需要，才能维护自身的利益，取得斗争的\\胜利，因而，根据工人阶级斗争的需要，便产\\生了工会。}
\leafnode{k3}{1684}{1948}{5201}{随着工人运动的发展，产业原则组织工会逐渐\\为工人接受，越来越多的工人群众按产业系统\\组织起来，凡在同一企业内的工人都参加同一\\产业工会，有利于工人阶级的团结和统一，增\\强了工会的战斗力。工会能以各种方式，不同\\程度地代表和维护工人群众的利益，通过内部\\协调、互相帮助，解决工人内部的竞争，争取\\和维护工人的利益，改善工人的工作、生活条\\件，并在国家政治生活中发挥作用，争得工人\\群众的社会政治利益。}
\leafnode{k4}{1684}{1948}{5305}{中国工会是中国xxx领导的职工自愿结合的工\\人阶级群众组织，是党联系群众的桥梁和纽带\\，是国家xxx的重要社会支柱，是会员和职工\\利益的代表者。}
\leafnode{k5}{1684}{1948}{5587}{中国工会以宪法为根本活动准则，按照《xxx\\工会法》和《中国工会章程》独立自主地开展\\工作，依法行使权力和履行义务。在发展社会\\主义市场经济和加快社会主义现代化建设的历\\史进程中，中国工会必须以"马克思列宁主义\\、xxx思想、xxx理论"为指导，贯彻执行党的\\以经济建设为中心，坚持四项基本原则，坚持\\改革开放的基本路线，全面履行工会的社会职\\能:维护职工的合法权益和民主权利;动员和组\\织职工积极参加建设和改革，完成经济和社会\\发展任务;代表和组织职工参与国家和社会事\\务管理，参与企业、事业、和机关的民主管理\\;教育职工不断提高思想道德素质和科学文化\\素质，建设有理想、有文化、有纪律的职工队\\伍。}
\leafnode{k6}{1684}{1948}{5723}{我自愿加入 工会，遵守工会章程，按时缴纳\\工会会费，执行工会决议，积极参加工会活动\\，为在本世纪内把我国建设成农业、工业、国\\防和科学技术现代化的伟大的社会主义强国而\\奋斗，为本单位的发展贡献出自己的一份力量\\。望组织批准!}
\leafnode{k7}{1684}{1737}{5779}{申请人：}
\rgrp{cB}{r11.east}{w11v}{1672}{k1,k2,k3,k4,k5,k6,k7}

% ================= main curves =================
\begin{pgfonlayer}{bg}
\lcurve{cC}{b2}{496}
\lcurve{cS}{b4}{1089}
\lcurve{cB}{b6}{1593}
\lcurve{cC}{b8}{3374}
\lcurve{cS}{b10}{5495}
\rcurve{cS}{r1}{686}
\rcurve{cC}{r3}{1425}
\rcurve{cB}{r5}{2043}
\rcurve{cS}{r7}{2700}
\rcurve{cC}{r9}{4070}
\rcurve{cB}{r11}{5305}
\end{pgfonlayer}
\end{tikzpicture}
\end{document}
